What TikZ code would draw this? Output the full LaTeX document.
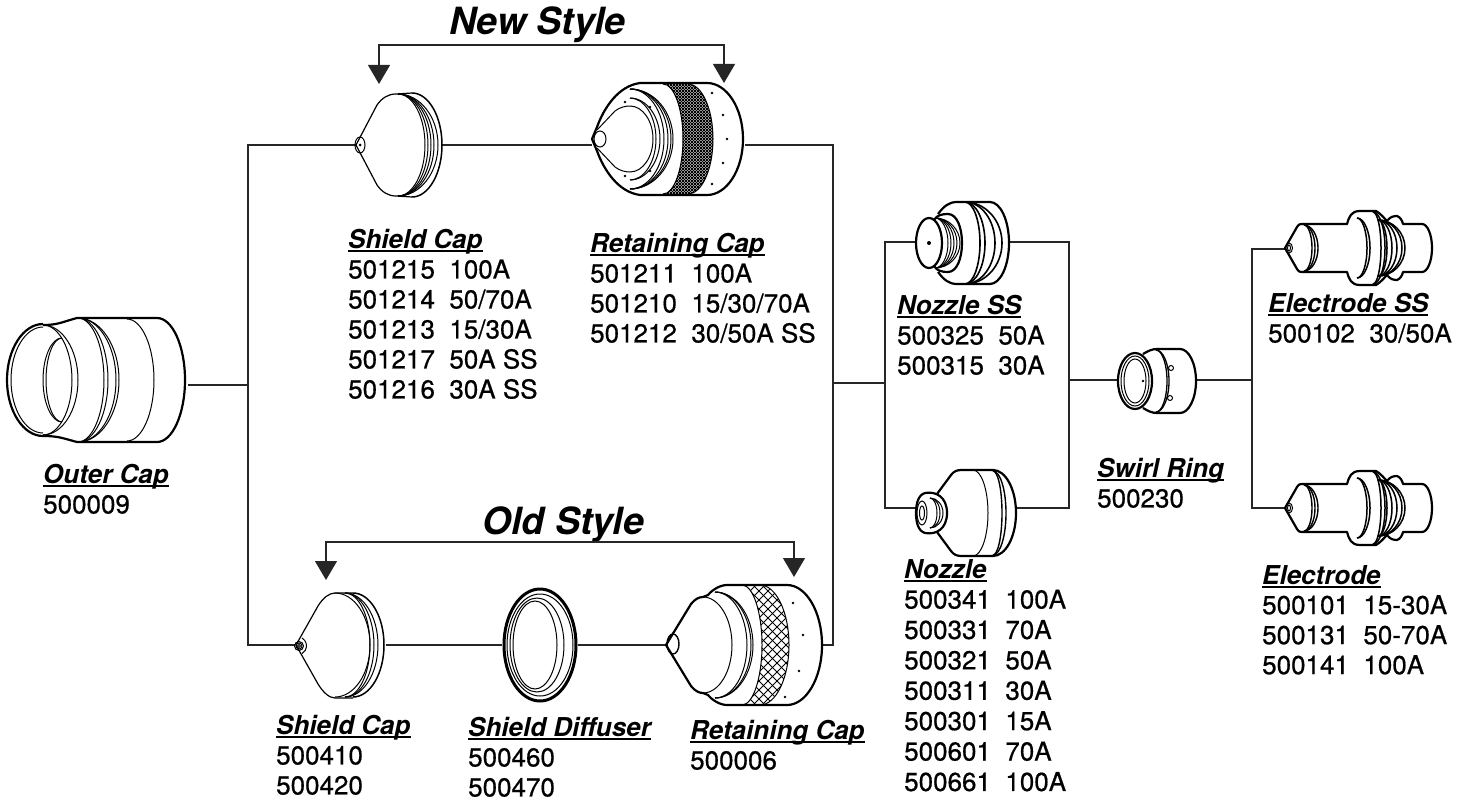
\documentclass[tikz,border=0pt]{standalone}
\usepackage{fontspec}
\setmainfont{TeX Gyre Heros}
\newfontfamily\numberfont{TeX Gyre Heros}[FakeBold=0.6]
\usetikzlibrary{arrows.meta}

% half ellipse from the top of a ring to its bottom
\newcommand{\bulge}[4]{(#1,#2-#4) .. controls (#1+.55*#3,#2-#4) and (#1+#3,#2-.55*#4) .. (#1+#3,#2) .. controls (#1+#3,#2+.55*#4) and (#1+.55*#3,#2+#4) .. (#1,#2+#4)}
\newcommand{\ringarc}[5][partthin]{\draw[#1] \bulge{#2}{#3}{#4}{#5};}
\newcommand{\knurlband}[7]{%
    \begin{scope}
        \clip \bulge{#1}{#5}{#2}{#6} -- \bulge{#3}{#5}{#4}{-#6} -- cycle;
        \foreach \k in {0,#7,...,400} {
            \draw[knurl] (#1+\k-200,#5-100) -- ++(200,200);
            \draw[knurl] (#1+\k-200,#5+100) -- ++(200,-200);
        }
    \end{scope}}
\newcommand{\parttitle}[1]{\leavevmode\setbox0=\hbox{\normalfont\bfseries\itshape #1}\rlap{\rule[-3.5pt]{\wd0}{1.7pt}}\box0}

\begin{document}
\begin{tikzpicture}[
        x=1pt, y=-1pt,
        partbox/.style={rectangle, inner sep=0pt, minimum height=100pt},
        partthin/.style={line width=1pt, black},
        partthick/.style={line width=2.2pt, black, line join=round},
        knurl/.style={line width=0.9pt, black},
        wire/.style={line width=1.1pt, black!85},
        bracket/.style={line width=1.1pt, black!85, {Triangle[width=22pt,length=19pt]}-{Triangle[width=22pt,length=19pt]}},
        partlabel/.style={anchor=north west, align=left, inner sep=0pt, font=\fontsize{26}{30}\selectfont\numberfont},
        styletitle/.style={anchor=base west, inner sep=0pt, font=\fontsize{37.5}{40}\selectfont\bfseries\itshape}
    ]
    \useasboundingbox (0,0) rectangle (1475,800);

    % --- 1. PARTS ---
    \node[partbox, minimum width=182pt] (outercap) at (97,385) {};
    \node[partbox, minimum width=86pt] (shieldnew) at (399,145) {};
    \node[partbox, minimum width=153pt] (retainnew) at (668.5,145) {};
    \node[partbox, minimum width=90pt] (shieldold) at (340.5,645) {};
    \node[partbox, minimum width=75pt] (diffuser) at (540,645) {};
    \node[partbox, minimum width=157pt] (retainold) at (744,645) {};
    \node[partbox, minimum width=93pt] (nozzless) at (963,242) {};
    \node[partbox, minimum width=101pt] (nozzle) at (966,508) {};
    \node[partbox, minimum width=79pt] (swirl) at (1157,380) {};
    \node[partbox, minimum width=148pt] (electrodess) at (1359,249) {};
    \node[partbox, minimum width=148pt] (electrode) at (1359,508) {};

    % Junctions
    \coordinate (capjoin) at (248,385);
    \coordinate (newjoin) at (248,145);
    \coordinate (oldjoin) at (248,645);
    \coordinate (newout) at (833,145);
    \coordinate (oldout) at (833,645);
    \coordinate (capout) at (833,383);
    \coordinate (nozzlejoin) at (885,383);
    \coordinate (nozzlessin) at (885,242);
    \coordinate (nozzlein) at (885,508);
    \coordinate (nozzlessout) at (1069,242);
    \coordinate (nozzleout) at (1069,508);
    \coordinate (swirlin) at (1069,380);
    \coordinate (swirlout) at (1252,380);
    \coordinate (electrodessin) at (1252,249);
    \coordinate (electrodein) at (1252,508);

    % Bracket ends
    \coordinate (newleft) at (379,84);
    \coordinate (newright) at (724,83);
    \coordinate (newbar) at (550,45);
    \coordinate (oldleft) at (326,580);
    \coordinate (oldright) at (794,577);
    \coordinate (oldbar) at (550,542);

    % --- 2. LABELS ---
    \node[styletitle] (newstyle) at (449,35) {New Style};
    \node[styletitle] (oldstyle) at (482,534) {Old Style};

    \node[partlabel] (outerlabel) at (43,464) {\parttitle{Outer Cap}\\500009};
    \node[partlabel] (shieldnewlabel) at (348,229) {\parttitle{Shield Cap}\\501215\ \ 100A\\501214\ \ 50/70A\\501213\ \ 15/30A\\501217\ \ 50A SS\\501216\ \ 30A SS};
    \node[partlabel] (retainnewlabel) at (590,233) {\parttitle{Retaining Cap}\\501211\ \ 100A\\501210\ \ 15/30/70A\\501212\ \ 30/50A SS};
    \node[partlabel] (shieldoldlabel) at (276,715) {\parttitle{Shield Cap}\\500410\\500420};
    \node[partlabel] (diffuserlabel) at (468,717) {\parttitle{Shield Diffuser}\\500460\\500470};
    \node[partlabel] (retainoldlabel) at (690,720) {\parttitle{Retaining Cap}\\500006};
    \node[partlabel] (nozzlesslabel) at (897,295) {\parttitle{Nozzle SS}\\500325\ \ 50A\\500315\ \ 30A};
    \node[partlabel, font=\fontsize{26}{30.4}\selectfont\numberfont] (nozzlelabel) at (904,559) {\parttitle{Nozzle}\\500341\ \ 100A\\500331\ \ 70A\\500321\ \ 50A\\500311\ \ 30A\\500301\ \ 15A\\500601\ \ 70A\\500661\ \ 100A};
    \node[partlabel] (swirllabel) at (1097,458) {\parttitle{Swirl Ring}\\500230};
    \node[partlabel] (electrodesslabel) at (1268,293) {\parttitle{Electrode SS}\\500102\ \ 30/50A};
    \node[partlabel] (electrodelabel) at (1262,565) {\parttitle{Electrode}\\500101\ \ 15-30A\\500131\ \ 50-70A\\500141\ \ 100A};

    % --- 3. CONNECTORS ---
    \draw[wire] (outercap.east) -- (capjoin);
    \draw[wire] (shieldnew.west) -- (newjoin) -- (oldjoin) -- (shieldold.west);
    \draw[wire] (shieldnew.east) -- (retainnew.west);
    \draw[wire] (shieldold.east) -- (diffuser.west);
    \draw[wire] (diffuser.east) -- (retainold.west);
    \draw[wire] (retainnew.east) -- (newout) -- (oldout) -- (retainold.east);
    \draw[wire] (capout) -- (nozzlejoin);
    \draw[wire] (nozzless.west) -- (nozzlessin) -- (nozzlein) -- (nozzle.west);
    \draw[wire] (nozzless.east) -- (nozzlessout) -- (nozzleout) -- (nozzle.east);
    \draw[wire] (swirlin) -- (swirl.west);
    \draw[wire] (swirl.east) -- (swirlout);
    \draw[wire] (electrodess.west) -- (electrodessin) -- (electrodein) -- (electrode.west);

    \draw[bracket] (newleft) -- (newleft |- newbar) -- (newright |- newbar) -- (newright);
    \draw[bracket] (oldleft) -- (oldleft |- oldbar) -- (oldright |- oldbar) -- (oldright);

    % --- 4. PART DRAWINGS ---
    % Outer cap
    \draw[partthick] (43,325) .. controls (58,325) and (62,322) .. (77,318) -- \bulge{157}{380}{28}{62} -- (77,442) .. controls (62,438) and (58,436) .. (43,436);
    \ringarc[partthick]{43}{380}{-36}{56}
    \ringarc{43}{380}{-32}{53}
    \foreach \r in {29,35} {\ringarc{43}{380}{\r}{55}}
    \foreach \r in {16,19} {\ringarc{62}{380}{-\r}{42}}
    \foreach \r in {26,30,38,41} {\ringarc{78}{380}{\r}{62}}
    \ringarc{127}{380}{27}{61}

    % Shield cap (new)
    \draw[partthin, line width=1.2pt] (356,145) -- (377,105) .. controls (382,98) and (388,94) .. (396,94) -- (412,93);
    \draw[partthin, line width=1.2pt] (356,145) -- (377,185) .. controls (382,192) and (388,196) .. (396,196) -- (412,197);
    \ringarc[partthin, line width=1.5pt]{412}{145}{30}{52}
    \foreach \r in {27,30,33,36,40} {\ringarc{398}{145}{\r}{51}}
    \draw[partthin] (360,145) ellipse (5 and 8);
    \fill (360,145) circle (1.5);

    % Retaining cap (new)
    \knurlband{663}{20}{688}{25}{139}{55}{3}
    \draw[partthick] (592,139) -- (597,127) .. controls (604,108) and (618,86) .. (640,83) -- \bulge{707}{139}{36}{56} -- (640,195) .. controls (618,192) and (604,170) .. (597,151) -- cycle;
    \draw[partthin] (600,139) ellipse (6 and 8);
    \draw[partthin] (597,130) -- (615,111) .. controls (620,107) and (626,106) .. (630,106);
    \draw[partthin] (597,148) -- (615,167) .. controls (620,171) and (626,172) .. (630,172);
    \ringarc{630}{139}{23}{33}
    \foreach \r in {26,30} {\ringarc{630}{139}{\r}{41}}
    \foreach \r in {34,38,41,43} {\ringarc{630}{139}{\r}{50}}
    \ringarc{663}{139}{20}{55}
    \ringarc{688}{139}{25}{55}
    \foreach \px/\py in {712/93,723/115,727/139,723/163,712/184,625/102,650/107,650/171,625/176} {\fill (\px,\py) circle (1.3);}

    % Shield cap (old)
    \draw[partthin, line width=1.2pt] (296,645) -- (318,606) .. controls (323,598) and (329,593) .. (335,593) -- (353,593);
    \draw[partthin, line width=1.2pt] (296,645) -- (318,684) .. controls (323,692) and (329,698) .. (335,698) -- (353,698);
    \ringarc[partthin, line width=1.5pt]{353}{645}{31}{52}
    \foreach \r in {25,29,33} {\ringarc{345}{645}{\r}{52}}
    \ringarc{335}{645}{35}{52}
    \foreach \r in {1.5,3,4.5} {\draw[partthin] (299,646) circle (\r);}
    \draw[partthin] (302,638) arc[start angle=-60, end angle=60, radius=9];

    % Shield diffuser
    \draw[partthick, line width=3pt] (540,645) ellipse (36 and 56);
    \draw[partthin] (540,645) ellipse (33 and 51);
    \draw[partthin] (537,645) ellipse (27 and 47);
    \draw[partthin] (535,645) ellipse (22 and 44);

    % Retaining cap (old)
    \knurlband{742}{20}{760}{29}{645}{60}{9}
    \draw[partthick] (666,645) -- (691,604) .. controls (695,599) and (699,597) .. (703,597) -- (708,595) .. controls (712,590) and (720,585) .. (727,585) -- \bulge{787}{645}{35}{60} -- (727,705) .. controls (720,705) and (712,700) .. (708,695) -- (703,693) .. controls (699,693) and (695,691) .. (691,686) -- cycle;
    \draw[partthin, line width=1.4pt] (673,644) ellipse (6 and 10);
    \ringarc{703}{645}{29}{48}
    \foreach \r in {32,36,38} {\ringarc{715}{645}{\r}{53}}
    \ringarc{742}{645}{20}{60}
    \ringarc{760}{645}{29}{60}
    \foreach \px/\py in {793/603,803/635,799/671,785/697} {\fill (\px,\py) circle (1.3);}

    % Nozzle SS
    \draw[partthick] (938,214) .. controls (944,206) and (949,202) .. (957,202) -- \bulge{990}{243}{19}{41} -- (957,284) .. controls (949,284) and (944,280) .. (938,272);
    \draw[partthick] (934,220) .. controls (937,215) and (942,214) .. (948,214) .. controls (957,214) and (962,228) .. (962,243) .. controls (962,258) and (957,272) .. (948,272) .. controls (942,272) and (937,271) .. (934,266);
    \draw[partthick] (929,243) ellipse (13 and 25);
    \foreach \r in {13,16,19,22,25} {\ringarc{935}{243}{\r}{25}}
    \foreach \r in {15,20} {\ringarc[partthick, line width=1.6pt]{965}{243}{\r}{41}}
    \foreach \r in {30,37} {\ringarc[partthick, line width=1.6pt]{965}{243}{\r}{41}}
    \fill (929,243) circle (2);

    % Nozzle
    \draw[partthick] (937,494) -- (951,475) .. controls (954,471) and (957,470) .. (962,470) -- \bulge{993}{513}{23}{43} -- (962,556) .. controls (957,556) and (954,555) .. (951,551) -- (937,532);
    \draw[partthick] (925,493) .. controls (936,491) and (947,497) .. (947,513) .. controls (947,529) and (936,535) .. (925,533) .. controls (918,531) and (916,522) .. (916,513) .. controls (916,504) and (918,495) .. (925,493) -- cycle;
    \ringarc{973}{513}{15}{43}
    \foreach \r in {9,13} {\ringarc[partthin, line width=1.4pt]{993}{513}{\r}{42}}
    \foreach \r in {7,10,13} {\ringarc{930}{513}{\r}{15}}
    \draw[partthin] (922,513) ellipse (5 and 12);
    \draw[partthin] (922,513) ellipse (2.5 and 7);

    % Swirl ring
    \draw[partthick] (1143,354) .. controls (1148,351) and (1152,349) .. (1157,349) -- \bulge{1180}{381}{16}{32} -- (1157,413) .. controls (1152,413) and (1148,411) .. (1143,408);
    \draw[partthick] (1135,381) ellipse (17 and 28);
    \draw[partthin] (1135,381) ellipse (14 and 25);
    \draw[partthin] (1135,381) ellipse (11 and 22);
    \foreach \r in {11,13} {\ringarc[partthin, line width=1.3pt]{1156}{381}{\r}{31}}
    \draw[partthin] (1171,368) circle (2.5);
    \draw[partthin] (1170,398) circle (2.5);
    \fill (1143,381) circle (1.3);

    % Electrode SS and electrode
    \foreach \cy in {248,508} {
        \draw[partthick] (1285,\cy) -- (1297,\cy-21) .. controls (1299,\cy-24) and (1300,\cy-24) .. (1302,\cy-24) -- (1347,\cy-24) .. controls (1349,\cy-31) and (1351,\cy-37) .. (1360,\cy-37) -- (1376,\cy-37) .. controls (1381,\cy-34) and (1384,\cy-30) .. (1387,\cy-27) .. controls (1390,\cy-31) and (1393,\cy-32) .. (1397,\cy-32) .. controls (1400,\cy-31) and (1402,\cy-28) .. (1403,\cy-24) -- \bulge{1422}{\cy}{10}{24} -- (1403,\cy+24) .. controls (1402,\cy+28) and (1400,\cy+31) .. (1397,\cy+32) .. controls (1393,\cy+32) and (1390,\cy+31) .. (1387,\cy+27) .. controls (1384,\cy+30) and (1381,\cy+34) .. (1376,\cy+37) -- (1360,\cy+37) .. controls (1351,\cy+37) and (1349,\cy+31) .. (1347,\cy+24) -- (1302,\cy+24) .. controls (1300,\cy+24) and (1299,\cy+24) .. (1297,\cy+21) -- cycle;
        \foreach \r in {8,11,14} {\ringarc[partthin, line width=1.4pt]{1304}{\cy}{\r}{23}}
        \foreach \r in {10,13} {\ringarc[partthin, line width=1.5pt]{1357}{\cy}{\r}{30}}
        \foreach \r in {8,12} {\ringarc[partthin, line width=1.5pt]{1373}{\cy}{\r}{36}}
        \foreach \r in {9,14,19,24,27} {\ringarc[partthin, line width=1.5pt]{1378}{\cy}{\r}{28}}
        \draw[partthin] (1289,\cy) ellipse (3.5 and 5);
        \draw[partthin] (1289,\cy) ellipse (1.5 and 3);
    }
\end{tikzpicture}
\end{document}
